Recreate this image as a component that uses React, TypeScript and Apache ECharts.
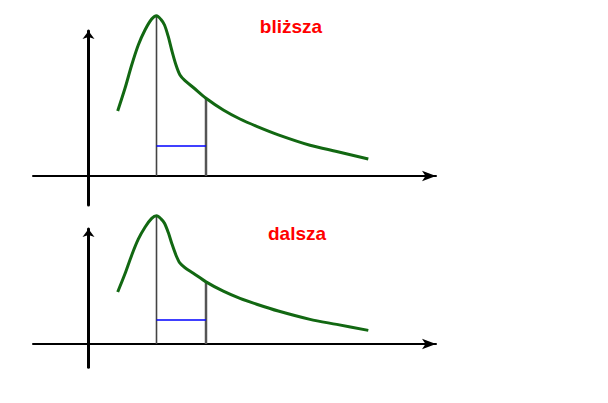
import React, { useEffect, useRef } from "react";
import * as echarts from "echarts";

// Curve samples (x, y) in chart units
const curveX = [29.2, 36.5, 43.2, 49.8, 56.5, 63.2, 68, 72.5, 76, 79.8, 83.2, 87.5, 91.5, 96.5, 104.8, 117.5, 134.8, 151.5, 168.2, 189.8, 221.5, 248.2, 279.8];
const curveY = [65, 87.7, 111, 131, 146, 157, 160.3, 156.5, 151, 139.3, 126, 111, 101, 95.3, 88.5, 77.7, 66, 57, 49.7, 41.2, 30.8, 24.5, 17];

// Vertical markers: peak and boundary
const peakX = 68;
const peakY = 160.3;
const boundX = 117.5;
const boundY = 77.7;
// Blue horizontal segment level
const blueY = 30;

// Panel labels
const panelLabels = ["bliższa", "dalsza"];

export default function App() {
  const ref = useRef<HTMLDivElement>(null);
  useEffect(() => {
    if (!ref.current) return;
    const chart = echarts.init(ref.current, null, { renderer: "svg" });
    const curve = curveX.map((x, i) => [x, curveY[i]]);

    const grids = [
      { left: 33, right: 172, top: 31, bottom: 198 },
      { left: 33, right: 172, top: 229, bottom: 35.8 },
    ];
    const yMax = [145, 143.75];

    const xAxes = grids.map((_, i) => ({
      type: "value",
      gridIndex: i,
      min: -55.5,
      max: 347.5,
      axisLine: {
        show: true,
        onZero: true,
        symbol: ["none", "arrow"],
        symbolSize: [8, 14],
        lineStyle: { color: "#000", width: 2 },
      },
      axisTick: { show: false },
      axisLabel: { show: false },
      splitLine: { show: false },
    }));
    const yAxes = grids.map((_, i) => ({
      type: "value",
      gridIndex: i,
      min: -29,
      max: yMax[i],
      axisLine: {
        show: true,
        onZero: true,
        symbol: ["none", "arrow"],
        symbolSize: [9, 8],
        lineStyle: { color: "#000", width: 3 },
      },
      axisTick: { show: false },
      axisLabel: { show: false },
      splitLine: { show: false },
    }));

    const series: any[] = [];
    grids.forEach((_, i) => {
      series.push({
        type: "line",
        xAxisIndex: i,
        yAxisIndex: i,
        data: [[peakX, 0], [peakX, peakY]],
        symbol: "none",
        clip: false,
        lineStyle: { color: "#444", width: 1.6 },
        z: 1,
      });
      series.push({
        type: "line",
        xAxisIndex: i,
        yAxisIndex: i,
        data: [[boundX, 0], [boundX, boundY]],
        symbol: "none",
        clip: false,
        lineStyle: { color: "#555", width: 2.5 },
        z: 1,
      });
      series.push({
        type: "line",
        xAxisIndex: i,
        yAxisIndex: i,
        data: [[peakX, blueY], [boundX, blueY]],
        symbol: "none",
        clip: false,
        lineStyle: { color: "#0000ff", width: 1.5 },
        z: 1,
      });
      series.push({
        type: "line",
        xAxisIndex: i,
        yAxisIndex: i,
        data: curve,
        symbol: "none",
        smooth: 0.3,
        clip: false,
        lineStyle: { color: "#126812", width: 3 },
        z: 3,
      });
    });

    chart.setOption({
      animation: false,
      grid: grids,
      xAxis: xAxes,
      yAxis: yAxes,
      series,
      graphic: [
        {
          type: "text",
          x: 291,
          y: 17,
          style: {
            text: panelLabels[0],
            fill: "#ff0000",
            font: "bold 19px 'Liberation Sans', Arial, sans-serif",
            textAlign: "center",
            textVerticalAlign: "top",
          },
        },
        {
          type: "text",
          x: 297,
          y: 224,
          style: {
            text: panelLabels[1],
            fill: "#ff0000",
            font: "bold 19px 'Liberation Sans', Arial, sans-serif",
            textAlign: "center",
            textVerticalAlign: "top",
          },
        },
      ],
    });
    return () => chart.dispose();
  }, []);
  return (
    <div
      ref={ref}
      style={{ position: "fixed", left: 0, top: 0, width: 608, height: 403, background: "#fff" }}
    />
  );
}
